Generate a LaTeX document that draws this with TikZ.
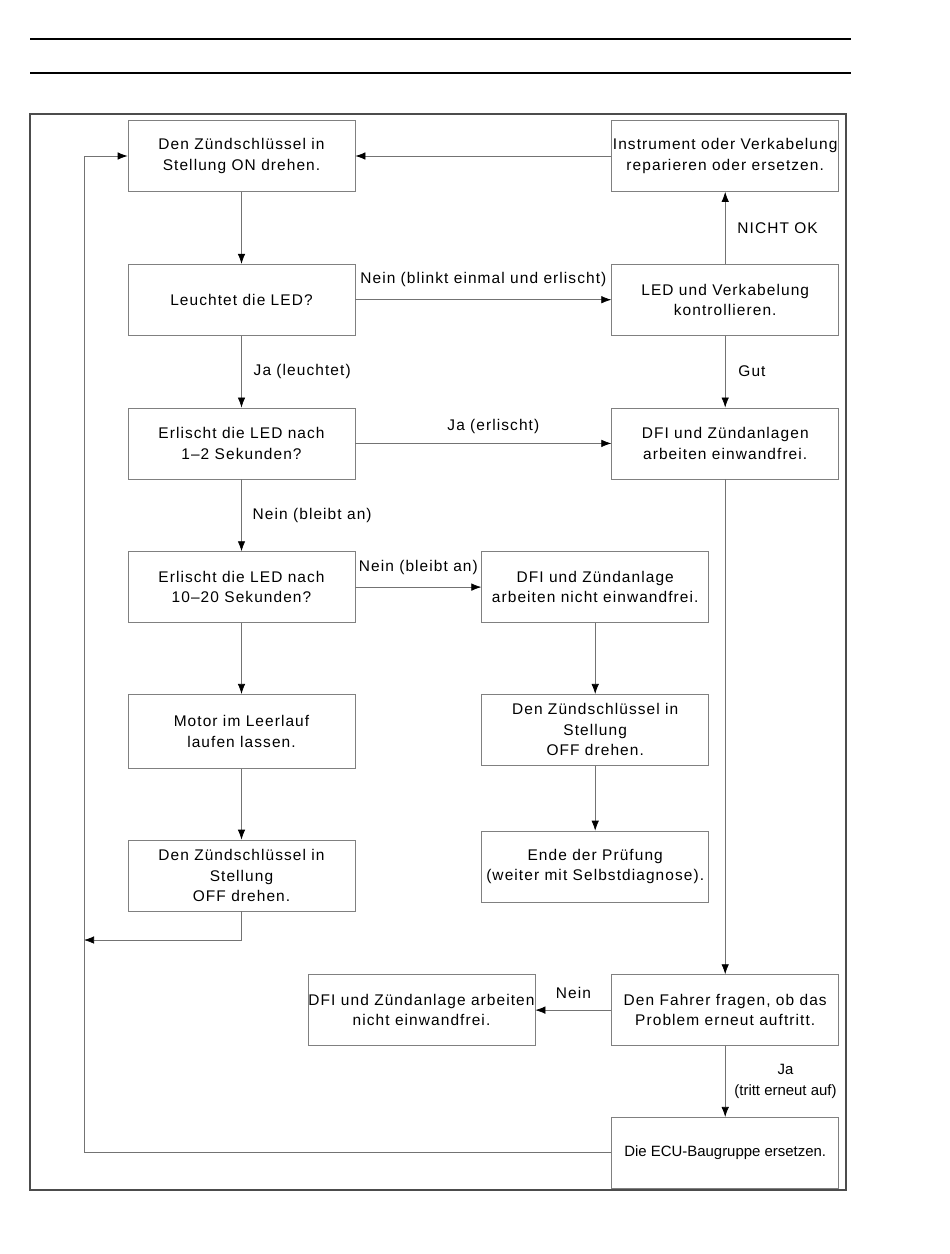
\documentclass[tikz,border=0pt]{standalone}
\usepackage{fontspec}
\usepackage{tikz}
\usetikzlibrary{positioning, arrows.meta}
\newfontfamily\boxfont[LetterSpace=7]{Liberation Sans}
\newfontfamily\plainfont{Liberation Sans}
\tikzset{
    box/.style={
        draw = gray, minimum width = 4.54cm,
        minimum height = 1.42cm,
        inner sep = 0pt,
        align = center,
        font = \boxfont\fontsize{8.8}{11.6}\selectfont
    },
    every node/.style = {node distance=1.44cm},
    lbl/.style = {font = \boxfont\fontsize{8.8}{11.6}\selectfont, align = center},
    plainlbl/.style = {font = \plainfont\fontsize{8.5}{11.6}\selectfont, align = center},
    line/.style = {-{Latex[length=2mm, width=1.5mm, color=black]}, draw = gray!90!black}
}
\begin{document}
\begin{tikzpicture}

                            \useasboundingbox (0,0) rectangle (19,-25.08);
                            \draw[line width=0.6pt] (0.6,-0.78) -- (17.02,-0.78);
                            \draw[line width=0.6pt] (0.6,-1.46) -- (17.02,-1.46);
                            \draw[line width=1.2pt, draw=black!70] (0.6,-2.28) rectangle (16.92,-23.8);

                            % left column
                            \node[box] (key-on) at (4.83,-3.12) {Den Zündschlüssel in\\Stellung ON drehen.};
                            \node[box, below = of key-on] (led-on) {Leuchtet die LED?};
                            \node[box, below = of led-on] (led-off1) {Erlischt die LED nach\\1–2 Sekunden?};
                            \node[box, below = of led-off1] (led-off2) {Erlischt die LED nach\\10–20 Sekunden?};
                            \node[box, below = 1.42 of led-off2, minimum height = 1.48cm] (idle) {Motor im Leerlauf\\laufen lassen.};
                            \node[box, below = 1.42 of idle] (key-off1) {Den Zündschlüssel in\\Stellung\\OFF drehen.};

                            % middle column
                            \node[box, right = 2.52 of led-off2] (dfi-bad1) {DFI und Zündanlage\\arbeiten nicht einwandfrei.};
                            \node[box, below = 1.42 of dfi-bad1] (key-off2) {Den Zündschlüssel in\\Stellung\\OFF drehen.};
                            \node[box, below = 1.3 of key-off2] (end) {Ende der Prüfung\\(weiter mit Selbstdiagnose).};

                            % right column
                            \node[box, right = 5.12 of key-on] (repair) {Instrument oder Verkabelung\\reparieren oder ersetzen.};
                            \node[box, below = of repair] (check) {LED und Verkabelung\\kontrollieren.};
                            \node[box, below = of check] (dfi-ok) {DFI und Zündanlagen\\arbeiten einwandfrei.};
                            \node[box, below = 9.9 of dfi-ok] (ask) {Den Fahrer fragen, ob das\\Problem erneut auftritt.};
                            \node[box, below = 1.42 of ask, font = \plainfont\fontsize{8.5}{11.6}\selectfont] (ecu) {Die ECU-Baugruppe ersetzen.};
                            \node[box, left = 1.52 of ask] (dfi-bad2) {DFI und Zündanlage arbeiten\\nicht einwandfrei.};

                            \coordinate (rail) at (1.68,-3.12);
                            \coordinate (join) at (1.68,-18.8);

                            \draw[line] (key-on) -- (led-on);
                            \draw[line] (led-on) -- (check) node[lbl, midway, above = 0.13cm]{Nein (blinkt einmal und erlischt)};
                            \draw[line] (check) -- (repair) node[lbl, midway, right = 0.12cm]{NICHT OK};
                            \draw[line] (repair) -- (key-on);
                            \draw[line] (led-on) -- (led-off1) node[lbl, midway, right = 0.12cm]{Ja (leuchtet)};
                            \draw[line] (check) -- (dfi-ok) node[lbl, midway, right = 0.14cm]{Gut};
                            \draw[line] (led-off1) -- (dfi-ok) node[lbl, midway, above = 0.08cm, xshift = 0.2cm]{Ja (erlischt)};
                            \draw[line] (led-off1) -- (led-off2) node[lbl, midway, right = 0.1cm]{Nein (bleibt an)};
                            \draw[line] (led-off2) -- (dfi-bad1) node[lbl, midway, above = 0.12cm]{Nein (bleibt an)};
                            \draw[line] (led-off2) -- (idle);
                            \draw[line] (idle) -- (key-off1);
                            \draw[line] (dfi-bad1) -- (key-off2);
                            \draw[line] (key-off2) -- (end);
                            \draw[line] (key-off1.south) |- (join);
                            \draw[line] (dfi-ok) -- (ask);
                            \draw[line] (ask) -- (dfi-bad2) node[lbl, midway, above = 0.1cm]{Nein};
                            \draw[line] (ask) -- (ecu) node[plainlbl, midway, right = 0.06cm]{Ja\\(tritt erneut auf)};
                            \draw[line] (ecu.west) -| (rail) -- (key-on.west);

                        \end{tikzpicture}
\end{document}
